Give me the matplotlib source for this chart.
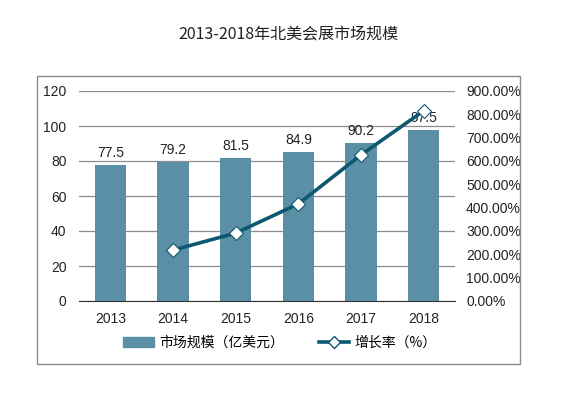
import matplotlib.pyplot as plt
from matplotlib.patches import Rectangle
from matplotlib.lines import Line2D
from matplotlib.patches import Patch

plt.rcParams['font.family'] = ['Liberation Sans', 'Noto Sans CJK SC', 'DejaVu Sans']

# 数据
years = ['2013', '2014', '2015', '2016', '2017', '2018']
market = [77.5, 79.2, 81.5, 84.9, 90.2, 97.5]  # 市场规模（亿美元）
growth_years = ['2014', '2015', '2016', '2017', '2018']
growth = [218, 291, 416, 626, 815]  # 增长率（%）

bar_color = '#5b8fa6'
line_color = '#0d5870'

fig = plt.figure(figsize=(5.77, 3.96), dpi=100)
ax = fig.add_axes([79 / 577, 1 - 301 / 396, 376 / 577, 210 / 396])

x = list(range(len(years)))
ax.bar(x, market, width=0.5, color=bar_color, zorder=2)
for xi, v in zip(x, market):
    ax.text(xi, v + 3, f'{v}', ha='center', va='bottom', fontsize=10, color='#222222', zorder=3)

ax.set_ylim(0, 120)
ax.set_yticks(range(0, 121, 20))
ax.set_xlim(-0.5, len(years) - 0.5)
ax.set_xticks(x)
ax.set_xticklabels(years)
ax.yaxis.grid(True, color='#8c8c8c', linewidth=0.9, zorder=0)
ax.set_axisbelow(True)
for s in ['top', 'left', 'right']:
    ax.spines[s].set_visible(False)
ax.spines['bottom'].set_color('#333333')
ax.tick_params(length=0, labelsize=10, colors='#222222')
ax.tick_params(axis='x', pad=8)
ax.tick_params(axis='y', pad=9)

ax2 = ax.twinx()
gx = [years.index(y) for y in growth_years]
ax2.plot(gx, growth, color=line_color, linewidth=2.6, marker='D', markersize=7,
         markerfacecolor='white', markeredgecolor=line_color, markeredgewidth=0.8, zorder=4)
ax2.set_ylim(0, 900)
ax2.set_yticks(range(0, 901, 100))
ax2.set_yticklabels([f'{v:.2f}%' for v in range(0, 901, 100)])
for s in ['top', 'left', 'right', 'bottom']:
    ax2.spines[s].set_visible(False)
ax2.tick_params(length=0, labelsize=10, colors='#222222', pad=8)

fig.text(0.5, 1 - 35 / 396, '2013-2018年北美会展市场规模', ha='center', va='center',
         fontsize=11.5, family=['Noto Sans CJK SC', 'DejaVu Sans'], color='#222222')

fig.patches.append(Rectangle((37 / 577, 1 - 364 / 396), 483 / 577, 288 / 396,
                             transform=fig.transFigure, fill=False,
                             edgecolor='#8c8c8c', linewidth=1))

handles = [Patch(color=bar_color),
           Line2D([], [], color=line_color, linewidth=2.6, marker='D', markersize=6,
                  markerfacecolor='white', markeredgecolor=line_color)]
fig.legend(handles, ['市场规模（亿美元）', '增长率（%）'], loc='center',
           bbox_to_anchor=(280 / 577, 1 - 343 / 396), ncol=2, frameon=False,
           prop={'family': ['Noto Sans CJK SC', 'DejaVu Sans'], 'size': 10},
           handlelength=2.2, columnspacing=2.5, handletextpad=0.4)

fig.savefig('out.png', dpi=100)
